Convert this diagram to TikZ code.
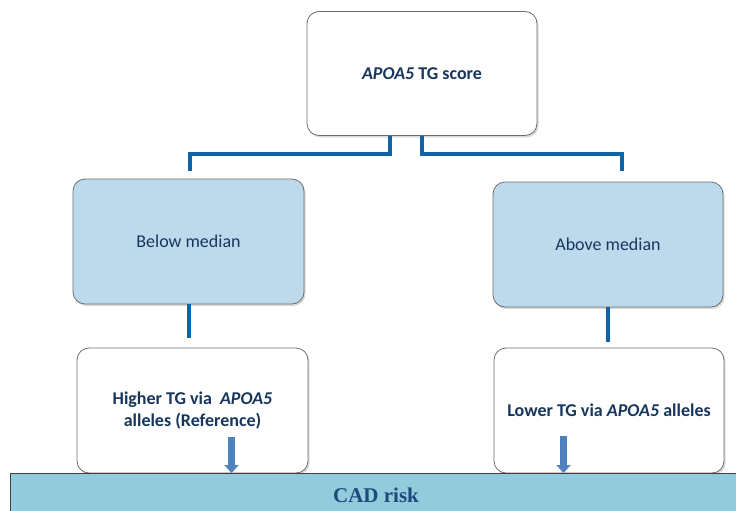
\documentclass[tikz,border=0pt]{standalone}
\usepackage{fontspec}
\setmainfont{Carlito}
\newfontfamily\cadfont{Liberation Serif}
\usetikzlibrary{arrows.meta,shadows}
\definecolor{txtblue}{RGB}{23,54,93}
\definecolor{connblue}{RGB}{16,100,163}
\definecolor{midfill}{RGB}{189,218,236}
\definecolor{barfill}{RGB}{146,203,220}
\definecolor{arrblue}{RGB}{79,129,189}
\definecolor{boxline}{RGB}{110,110,110}
\definecolor{cadblue}{RGB}{31,73,125}
\begin{document}
\begin{tikzpicture}[x=1pt,y=-1pt,
  box/.style={draw=boxline, line width=0.8pt, rounded corners=12pt, fill=white,
    minimum width=230pt, minimum height=124pt, inner sep=0pt, align=center,
    text=txtblue, font=\fontsize{18}{22}\selectfont,
    drop shadow={shadow xshift=1.5pt,shadow yshift=-2pt,opacity=0.3}},
  midbox/.style={box, fill=midfill},
  conn/.style={draw=connblue, line width=4pt, line join=miter},
  blockarrow/.style={draw=arrblue, line width=7pt, -{Triangle[width=14pt,length=8pt]}}
]
\useasboundingbox (0,0) rectangle (736,511);
\node[box] (top) at (422,73.5) {\textbf{\textit{APOA5} TG score}};
\node[midbox, minimum width=231pt, minimum height=125pt] (below) at (188.5,241.5) {Below median};
\node[midbox, minimum height=125pt] (above) at (608,244.5) {Above median};
\node[box, minimum width=231pt, minimum height=125pt] (higher) at (192.5,410.5)
  {\textbf{Higher TG via~ \textit{APOA5}}\\\textbf{alleles (Reference)}};
\node[box, minimum height=125pt] (lower) at (609,410.5)
  {\textbf{Lower TG via \textit{APOA5} alleles}};

\coordinate (lend) at (189.5,170.5);
\coordinate (rend) at (622,170.5);
\coordinate (lend2) at (188.5,338);
\coordinate (rend2) at (608,342);
\draw[conn] ([xshift=-32.5pt]top.south) -- ++(0,18) -| (lend);
\draw[conn] (top.south) -- ++(0,18) -| (rend);
\draw[conn] (below.south) -- (lend2);
\draw[conn] (above.south) -- (rend2);

\node[draw=black!75, line width=1.2pt, fill=barfill, minimum width=740pt, minimum height=46pt,
  inner sep=0pt, anchor=north west] (cad) at (10,473) {};
\node[text=cadblue, font=\cadfont\fontsize{21}{24}\selectfont\bfseries] (cadlabel) at (376,495) {CAD risk};

\coordinate (a1) at (231.5,437);
\coordinate (a2) at (563.5,436);
\draw[blockarrow] (a1) -- (a1 |- cad.north);
\draw[blockarrow] (a2) -- (a2 |- cad.north);
\end{tikzpicture}
\end{document}
